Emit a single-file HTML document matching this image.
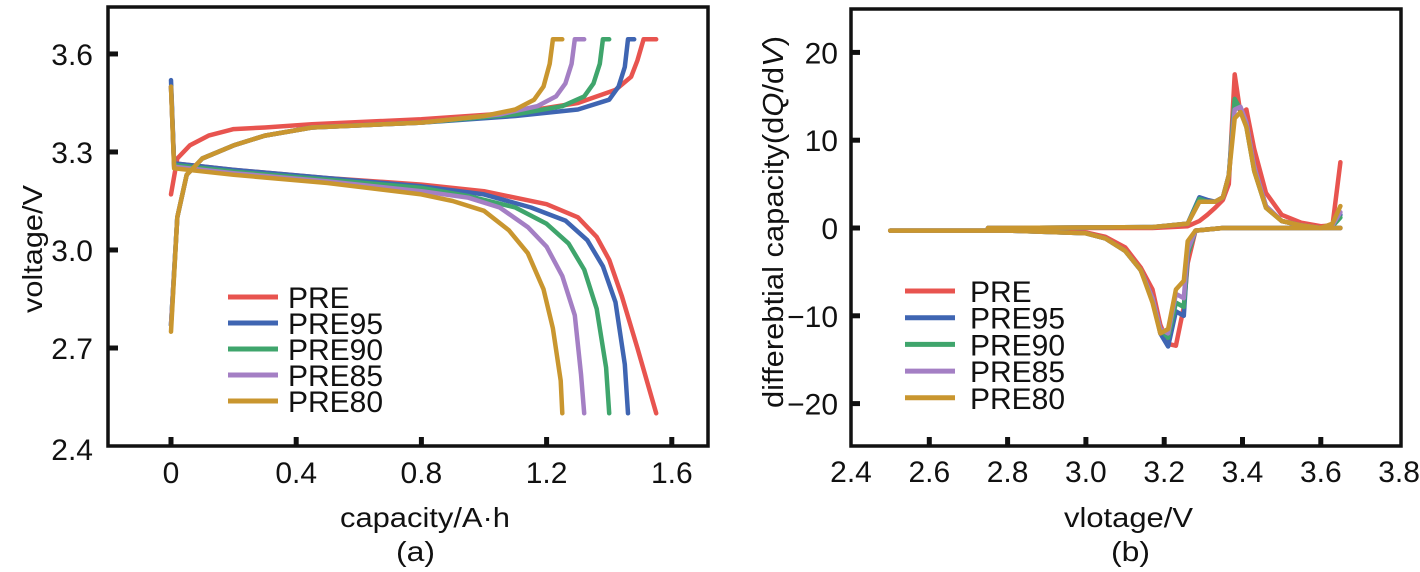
<!DOCTYPE html>
<html><head><meta charset="utf-8">
<style>
html,body{margin:0;padding:0;background:#fff;}
svg{display:block;font-family:"Liberation Sans",Arial,sans-serif;}
</style></head>
<body>
<svg id="fig" width="1420" height="572" viewBox="0 0 1420 572">
<g id="pa"></g>
<g id="pb"></g>
</svg>
<script>
const seriesNames = ["PRE","PRE95","PRE90","PRE85","PRE80"];
const seriesColors = ["#e8544f","#3f65b2","#3fa56c","#a47fc4","#c9962f"];
// panel a
const aXTicks = [0,0.4,0.8,1.2,1.6];
const aXTickLabels = ["0","0.4","0.8","1.2","1.6"];
const aYTicks = [2.4,2.7,3.0,3.3,3.6];
const aYTickLabels = ["2.4","2.7","3.0","3.3","3.6"];
const chargeCap = [
 [0,0.02,0.06,0.12,0.2,0.3,0.45,0.8,1.1,1.3,1.42,1.47,1.49,1.51,1.55],
 [0,0.02,0.05,0.1,0.2,0.3,0.45,0.8,1.1,1.3,1.4,1.43,1.45,1.46,1.48],
 [0,0.02,0.05,0.1,0.2,0.3,0.45,0.8,1.1,1.25,1.32,1.35,1.37,1.38,1.40],
 [0,0.02,0.05,0.1,0.2,0.3,0.45,0.8,1.05,1.17,1.23,1.26,1.28,1.29,1.32],
 [0,0.02,0.05,0.1,0.2,0.3,0.45,0.8,1.0,1.1,1.16,1.19,1.21,1.22,1.25]];
const chargeV = [
 [3.17,3.28,3.32,3.35,3.37,3.375,3.385,3.40,3.42,3.45,3.49,3.53,3.58,3.645,3.645],
 [2.77,3.1,3.23,3.28,3.32,3.35,3.375,3.39,3.41,3.43,3.46,3.50,3.56,3.645,3.645],
 [2.77,3.1,3.23,3.28,3.32,3.35,3.375,3.39,3.415,3.44,3.47,3.51,3.57,3.645,3.645],
 [2.77,3.1,3.23,3.28,3.32,3.35,3.375,3.39,3.415,3.44,3.47,3.51,3.57,3.645,3.645],
 [2.75,3.1,3.23,3.28,3.32,3.35,3.375,3.39,3.41,3.43,3.46,3.50,3.57,3.645,3.645]];
const dischCap = [
 [0,0.01,0.2,0.5,0.8,1.0,1.2,1.3,1.36,1.4,1.44,1.49,1.55],
 [0,0.01,0.2,0.5,0.8,1.0,1.15,1.26,1.33,1.38,1.42,1.45,1.46],
 [0,0.01,0.2,0.5,0.8,0.95,1.1,1.2,1.27,1.32,1.36,1.39,1.40],
 [0,0.01,0.2,0.5,0.8,0.95,1.05,1.14,1.2,1.25,1.29,1.31,1.32],
 [0,0.01,0.2,0.5,0.8,0.9,1.0,1.08,1.14,1.19,1.22,1.245,1.25]];
const dischV = [
 [3.5,3.265,3.245,3.22,3.2,3.18,3.14,3.10,3.04,2.97,2.86,2.7,2.5],
 [3.52,3.265,3.245,3.22,3.195,3.17,3.13,3.09,3.03,2.95,2.84,2.65,2.5],
 [3.5,3.26,3.24,3.215,3.19,3.165,3.13,3.08,3.02,2.94,2.82,2.64,2.5],
 [3.5,3.255,3.235,3.21,3.18,3.16,3.13,3.07,3.01,2.92,2.8,2.62,2.5],
 [3.5,3.25,3.23,3.205,3.17,3.15,3.12,3.06,2.99,2.88,2.76,2.6,2.5]];
// panel b
const bXTicks = [2.4,2.6,2.8,3.0,3.2,3.4,3.6,3.8];
const bXTickLabels = ["2.4","2.6","2.8","3.0","3.2","3.4","3.6","3.8"];
const bYTicks = [-20,-10,0,10,20];
const bYTickLabels = ["\u221220","\u221210","0","10","20"];
const dqV = [2.5,2.8,3.0,3.05,3.1,3.14,3.17,3.19,3.21,3.23,3.25,3.26,3.28,3.35,3.5,3.65];
const dqDis = [
 [-0.3,-0.3,-0.5,-1.0,-2.2,-4.5,-7,-11,-13.2,-13.4,-9,-4,-0.3,0,0,0],
 [-0.3,-0.3,-0.6,-1.2,-2.6,-4.8,-8,-12,-13.5,-9.5,-10,-3,-0.3,0,0,0],
 [-0.3,-0.3,-0.6,-1.2,-2.6,-4.8,-8,-11.5,-12.5,-8.5,-9,-3,-0.3,0,0,0],
 [-0.3,-0.3,-0.6,-1.2,-2.6,-4.8,-8,-11.5,-12,-7.5,-8,-2.5,-0.3,0,0,0],
 [-0.3,-0.3,-0.6,-1.2,-2.6,-4.8,-8.5,-12,-11.5,-7,-6,-1.5,-0.3,0,0,0]];
const dqCv = [2.75,3.17,3.26,3.29,3.31,3.33,3.35,3.365,3.38,3.395,3.41,3.43,3.46,3.5,3.55,3.6,3.63,3.65];
const dqChg = [
 [0,0,0.2,0.8,1.5,2.3,3.2,5,17.5,13,13.5,9,4,1.5,0.6,0.2,0.3,7.5],
 [0,0.1,0.5,3.5,3.2,3.0,3.5,6,14,13.5,12,7,2.5,0.8,0.3,0,0.2,1.5],
 [0,0.1,0.5,3.3,3.0,3.0,3.5,6,14.7,13.5,11.5,6.5,2.3,0.8,0.3,0,0.2,1.2],
 [0,0.1,0.5,3.0,3.0,3.0,3.5,6,13.5,13.8,12,7,2.5,0.8,0.3,0,0.3,1.8],
 [0,0.1,0.5,3.0,3.0,3.0,3.5,6,12.5,13.2,11.5,6.5,2.3,0.8,0.3,0,0.5,2.5]];

const NS="http://www.w3.org/2000/svg";
function mk(parent,tag,attrs,text){const e=document.createElementNS(NS,tag);for(const k in attrs)e.setAttribute(k,attrs[k]);if(text!==undefined)e.textContent=text;parent.appendChild(e);return e;}
function fitW(t,w){t.setAttribute('textLength',w);t.setAttribute('lengthAdjust','spacingAndGlyphs');}

const axA = v=>171+v*313, ayA = v=>446-(v-2.4)*326.7;
const axB = v=>851+(v-2.4)*391.5, ayB = v=>228-v*8.78;

function frame(g,x0,y0,x1,y1){
 const r=mk(g,'rect',{x:x0,y:y0,width:x1-x0,height:y1-y0,fill:'none',stroke:'#111','stroke-width':3.5});
 
}
function line(g,xs,ys,fx,fy,col,name){
 let d='';for(let i=0;i<xs.length;i++)d+=(i?'L':'M')+fx(xs[i]).toFixed(1)+','+fy(ys[i]).toFixed(1);
 const p=mk(g,'path',{d:d,fill:'none',stroke:col,'stroke-width':4.5,'stroke-linejoin':'round','stroke-linecap':'round'});
 
}
function legend(g,lx,tx,y0,dy){
 for(let i=0;i<seriesNames.length;i++){
  const y=y0+i*dy;
  const l=mk(g,'line',{x1:lx,x2:lx+50,y1:y,y2:y,stroke:seriesColors[i],'stroke-width':5});
  
  const t=mk(g,'text',{x:tx,y:y+11,'font-size':30,fill:'#111'},seriesNames[i]);
  
 }
}
function tickText(g,x,y,anchor,s,name){
 const t=mk(g,'text',{x:x,y:y,'font-size':30,'text-anchor':anchor,fill:'#111'},s);
 
 return t;
}

// Panel A
const ga=document.getElementById('pa');
frame(ga,108,7,708,446);
aXTicks.forEach((v,i)=>{
 const tk=mk(ga,'line',{x1:axA(v),x2:axA(v),y1:446,y2:437,stroke:'#111','stroke-width':5});
 
 tickText(ga,axA(v),483,'middle',aXTickLabels[i],'x-tick-label');
});
aYTicks.forEach((v,i)=>{
 if(i>0){const tk=mk(ga,'line',{x1:108,x2:118,y1:ayA(v),y2:ayA(v),stroke:'#111','stroke-width':5});
 }
 tickText(ga,93,ayA(v)+(i==0?14:11),'end',aYTickLabels[i],'y-tick-label');
});
for(let s=0;s<5;s++){
 line(ga,chargeCap[s],chargeV[s],axA,ayA,seriesColors[s],'charge-curve-'+seriesNames[s].toLowerCase());
 line(ga,dischCap[s],dischV[s],axA,ayA,seriesColors[s],'discharge-curve-'+seriesNames[s].toLowerCase());
}
legend(ga,228,288,297,26);
let t;
t=mk(ga,'text',{x:340,y:527,'font-size':28,fill:'#111'},'capacity/A·h');
fitW(t,170);
t=mk(ga,'text',{x:396,y:561,'font-size':28,fill:'#111'},'(a)');
fitW(t,39);
t=mk(ga,'text',{x:-313,y:42,'font-size':28,fill:'#111',transform:'rotate(-90)'},'voltage/V');
fitW(t,128);

// Panel B
const gb=document.getElementById('pb');
frame(gb,851,9,1401,446);
bXTicks.forEach((v,i)=>{
 if(i>0&&i<bXTicks.length-1){const tk=mk(gb,'line',{x1:axB(v),x2:axB(v),y1:446,y2:437,stroke:'#111','stroke-width':5});
 }
 tickText(gb,axB(v),482,'middle',bXTickLabels[i],'x-tick-label');
});
bYTicks.forEach((v,i)=>{
 const tk=mk(gb,'line',{x1:851,x2:860,y1:ayB(v),y2:ayB(v),stroke:'#111','stroke-width':5});
 
 tickText(gb,838,ayB(v)+11,'end',bYTickLabels[i],'y-tick-label');
});
for(let s=0;s<5;s++){
 line(gb,dqV,dqDis[s],axB,ayB,seriesColors[s],'discharge-dqdv-'+seriesNames[s].toLowerCase());
 line(gb,dqCv,dqChg[s],axB,ayB,seriesColors[s],'charge-dqdv-'+seriesNames[s].toLowerCase());
}
legend(gb,905,970,291,26.7);
t=mk(gb,'text',{x:1064,y:527,'font-size':28,fill:'#111'},'vlotage/V');
fitW(t,129);
t=mk(gb,'text',{x:1111,y:561,'font-size':28,fill:'#111'},'(b)');
fitW(t,39);
t=mk(gb,'text',{x:-408,y:783,'font-size':29,fill:'#111',transform:'rotate(-90)'});

t.appendChild(document.createTextNode('differebtial capacity(d'));
mk(t,'tspan',{'font-style':'italic'},'Q');
t.appendChild(document.createTextNode('/d'));
mk(t,'tspan',{'font-style':'italic'},'V');
t.appendChild(document.createTextNode(')'));
fitW(t,372);
</script>
</body></html>
